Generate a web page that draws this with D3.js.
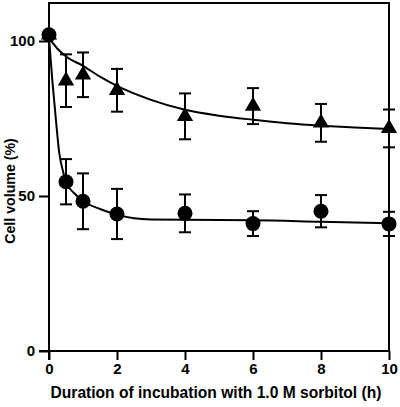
<!DOCTYPE html>
<html>
<head>
<meta charset="utf-8">
<script src="https://cdn.jsdelivr.net/npm/d3@7"></script>
<style>
  html, body { margin: 0; padding: 0; background: #fff; }
  svg { display: block; }
  text { font-family: "Liberation Sans", Arial, sans-serif; font-weight: bold; fill: #000; }
</style>
</head>
<body>
<svg id="chart" width="400" height="407"></svg>
<script>
// ---- data ----
const times = [0, 0.5, 1, 2, 4, 6, 8, 10];
const triangleMeans = [102, 87.2, 89.1, 84.1, 75.7, 79.0, 73.6, 71.8];
const triangleErrors = [0, 8.5, 7.2, 6.9, 7.4, 5.8, 6.1, 6.1];
const circleMeans = [102, 54.6, 48.3, 44.2, 44.4, 41.1, 45.1, 41.0];
const circleErrors = [0, 7.3, 9.0, 8.1, 6.1, 4.0, 5.2, 3.9];

// fitted curves as drawn in the figure
const triangleCurveT = [0, 0.25, 0.5, 1, 1.5, 2, 3, 4, 5, 6, 7, 8, 9, 10];
const triangleCurveV = [101, 97.5, 95, 92, 88.5, 85.5, 81, 77.8, 75.9, 74.6, 73.5, 72.7, 72.1, 71.6];
const circleCurveT = [0, 0.1, 0.2, 0.3, 0.4, 0.5, 0.75, 1, 1.5, 2, 2.5, 3, 4, 6, 8, 10];
const circleCurveV = [101, 87, 75, 64, 58.5, 54.6, 50.8, 48.4, 45.8, 44, 42.8, 42.4, 42.3, 42.2, 41.7, 41.2];

const xTicks = [0, 2, 4, 6, 8, 10];
const yTicks = [0, 50, 100];
const xTitle = "Duration of incubation with 1.0 M sorbitol (h)";
const yTitle = "Cell volume (%)";

// ---- layout ----
const svg = d3.select("#chart");
const x = d3.scaleLinear().domain([0, 10]).range([49, 389]);
const y = d3.scaleLinear().domain([0, 100]).range([351, 41]);
const yTop = y.invert(3);

// frame (top and right)
svg.append("rect")
  .attr("x", x(0)).attr("y", y(yTop))
  .attr("width", x(10) - x(0)).attr("height", y(0) - y(yTop))
  .attr("fill", "none").attr("stroke", "#000").attr("stroke-width", 2);

// axes
const xAxis = svg.append("g").attr("transform", `translate(0,${y(0)})`)
  .call(d3.axisBottom(x).tickValues(xTicks).tickSizeInner(9).tickSizeOuter(0).tickPadding(3).tickFormat(d3.format("d")));
const yAxis = svg.append("g").attr("transform", `translate(${x(0)},0)`)
  .call(d3.axisLeft(y).tickValues(yTicks).tickSizeInner(10).tickSizeOuter(0).tickPadding(4).tickFormat(d3.format("d")));
[xAxis, yAxis].forEach(g => {
  g.select(".domain").attr("stroke", "#000").attr("stroke-width", 2);
  g.selectAll(".tick line").attr("stroke", "#000").attr("stroke-width", 2);
  g.selectAll(".tick text").attr("font-size", 15).attr("font-family", "Liberation Sans, Arial, sans-serif").attr("font-weight", "bold").attr("fill", "#000");
});
// extend the bottom axis line to meet the y tick at zero
xAxis.select(".domain").attr("d", `M${x(0) - 10},0H${x(10)}`);
yAxis.select(".domain").attr("d", `M0,${y(yTop)}V${y(0) + 9}`);

// axis titles
svg.append("text")
  .attr("x", (x(0) + x(10)) / 2 - 3).attr("y", 398)
  .attr("text-anchor", "middle").attr("font-size", 15.6)
  .text(xTitle);
svg.append("text")
  .attr("transform", `translate(15,191) rotate(-90)`)
  .attr("text-anchor", "middle").attr("font-size", 14.2)
  .text(yTitle);

// fitted curves
const line = d3.line().x(d => x(d[0])).y(d => y(d[1])).curve(d3.curveMonotoneX);
svg.append("path").datum(triangleCurveT.map((t, i) => [t, triangleCurveV[i]]))
  .attr("d", line).attr("fill", "none").attr("stroke", "#000").attr("stroke-width", 2);
svg.append("path").datum(circleCurveT.map((t, i) => [t, circleCurveV[i]]))
  .attr("d", line).attr("fill", "none").attr("stroke", "#000").attr("stroke-width", 2);

// error bars
function errorBars(means, errs) {
  const g = svg.append("g").attr("stroke", "#000").attr("stroke-width", 2);
  times.forEach((t, i) => {
    if (!errs[i]) return;
    const cx = x(t), hi = y(means[i] + errs[i]), lo = y(means[i] - errs[i]);
    g.append("line").attr("x1", cx).attr("x2", cx).attr("y1", hi).attr("y2", lo);
    g.append("line").attr("x1", cx - 6).attr("x2", cx + 6).attr("y1", hi).attr("y2", hi);
    g.append("line").attr("x1", cx - 6).attr("x2", cx + 6).attr("y1", lo).attr("y2", lo);
  });
}
errorBars(triangleMeans, triangleErrors);
errorBars(circleMeans, circleErrors);

// markers
const tri = d3.symbol().type(d3.symbolTriangle).size(115);
svg.append("g").selectAll("path").data(times.map((t, i) => [t, triangleMeans[i]]))
  .join("path").attr("d", tri)
  .attr("transform", d => `translate(${x(d[0])},${y(d[1])})`).attr("fill", "#000");
svg.append("g").selectAll("circle").data(times.map((t, i) => [t, circleMeans[i]]))
  .join("circle").attr("cx", d => x(d[0])).attr("cy", d => y(d[1])).attr("r", 7.5).attr("fill", "#000");
</script>
</body>
</html>
